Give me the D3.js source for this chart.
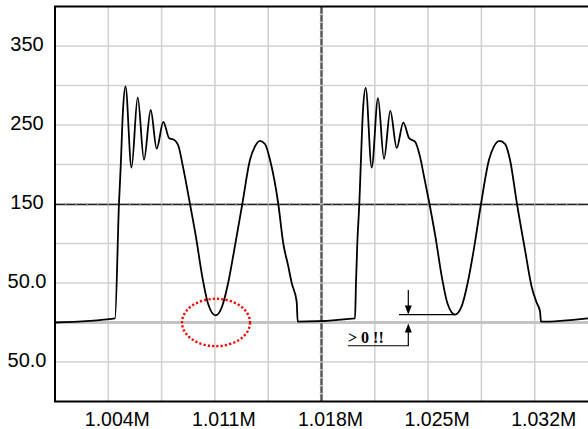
<!DOCTYPE html>
<html>
<head>
<meta charset="utf-8">
<script src="https://cdn.jsdelivr.net/npm/d3@7/dist/d3.min.js"></script>
<style>
  body { margin: 0; background: #fff; }
  svg { display: block; }
</style>
</head>
<body>
<svg width="588" height="429"></svg>
<script>
// tick labels
var xTicks = [1004000, 1011000, 1018000, 1025000, 1032000];
var yTicks = [350, 250, 150, 50, -50];
var yTickLabels = ["350", "250", "150", "50.0", "50.0"];

// trace (frequency in Hz, amplitude)
var pulse1Freq = [1000500, 1004440, 1004702, 1004814, 1004965, 1005129, 1005523, 1005931, 1006344,
  1006784, 1007178, 1007612, 1008006, 1008249, 1008577, 1008905, 1009365, 1009759, 1010153,
  1010547, 1011040, 1011466, 1011860, 1012254, 1012799, 1013305, 1013633, 1013961, 1014290,
  1014618, 1015163, 1015491, 1015820, 1016043, 1016371, 1016437];
var pulse1Amp = [0, 5.3, 151, 197, 269, 299, 196, 285, 206,
  269, 220, 254, 233, 232, 225, 197, 150, 108, 60,
  24, 9, 20, 49, 90, 150, 206, 223, 230, 226,
  206, 150, 100, 71, 50, 26, 1];

var pulse2Freq = [1020200, 1020265, 1020351, 1020482, 1020574, 1020725, 1020902, 1021296, 1021710,
  1022104, 1022518, 1022938, 1023372, 1023765, 1024140, 1024468, 1024731, 1025092, 1025486,
  1025880, 1026274, 1026766, 1027193, 1027587, 1027981, 1028473, 1028999, 1029327, 1029688,
  1030049, 1030378, 1030837, 1031363, 1031803, 1032131, 1032348, 1032413, 1035500];
var pulse2Amp = [5.3, 50, 100, 150, 197, 269, 297, 196, 284,
  207, 268, 221, 253, 233, 229, 210, 185, 150, 108,
  60, 24, 10, 20, 49, 90, 150, 206, 223, 230,
  226, 206, 150, 92, 45, 25, 14, 1, 5.3];

// annotations (data coordinates)
var circleFreq = 1011072, circleAmp = 0, circleRx = 2233, circleRy = 30;
var noteFreq = 1023700, noteLevel = 10, noteTop = 41, noteBase = -29.4;
var noteLineFrom = 1023090, noteLineTo = 1026766, noteTextFreq = 1019740;
var noteText = "> 0 !!";

var svg = d3.select("svg"),
    width = +svg.attr("width"),
    height = +svg.attr("height");

var x = d3.scaleLinear().domain([1000500, 1035500]).range([55, 588]);
var y = d3.scaleLinear().domain([-100, 400]).range([401.5, 6.5]);

var g = svg.append("g");

// grid
g.selectAll("line.vgrid")
  .data(d3.range(1004000, 1035500, 3500))
  .enter().append("line")
  .attr("class", "vgrid")
  .attr("x1", function(d) { return x(d); })
  .attr("x2", function(d) { return x(d); })
  .attr("y1", y(400)).attr("y2", y(-100))
  .style("stroke", "#d2d2d2")
  .style("stroke-width", 1.6);

g.selectAll("line.hgrid")
  .data(d3.range(-50, 400, 50))
  .enter().append("line")
  .attr("class", "hgrid")
  .attr("x1", x(1000500)).attr("x2", width)
  .attr("y1", function(d) { return y(d); })
  .attr("y2", function(d) { return y(d); })
  .style("stroke", function(d) { return d == 0 ? "#c4c4c4" : "#d2d2d2"; })
  .style("stroke-width", function(d) { return d == 0 ? 3.2 : 1.6; });

// centre crosshair with minor divisions
g.append("line")
  .attr("x1", x(1000500)).attr("x2", width)
  .attr("y1", y(150) + 0.5).attr("y2", y(150) + 0.5)
  .style("stroke", "#222")
  .style("stroke-width", 1.3);
g.selectAll("line.htick")
  .data(d3.range(1000500 + 700, 1035500, 700))
  .enter().append("line")
  .attr("class", "htick")
  .attr("x1", function(d) { return x(d); })
  .attr("x2", function(d) { return x(d); })
  .attr("y1", y(150) - 1).attr("y2", y(150) + 2)
  .style("stroke", "#aaa")
  .style("stroke-width", 1.2);

g.append("line")
  .attr("x1", x(1018000)).attr("x2", x(1018000))
  .attr("y1", y(400)).attr("y2", y(-100))
  .style("stroke", "#555")
  .style("stroke-width", 2.4);
g.selectAll("line.vtick")
  .data(d3.range(-90, 400, 10))
  .enter().append("line")
  .attr("class", "vtick")
  .attr("x1", x(1018000) - 2).attr("x2", x(1018000) + 2)
  .attr("y1", function(d) { return y(d); })
  .attr("y2", function(d) { return y(d); })
  .style("stroke", "#c8c8c8")
  .style("stroke-width", 1.4);

// frame
g.append("path")
  .attr("d", "M" + width + "," + y(400) + "H" + x(1000500) + "V" + y(-100) + "H" + width)
  .style("fill", "none")
  .style("stroke", "#000")
  .style("stroke-width", 2);

// trace
var trace = d3.zip(pulse1Freq, pulse1Amp).concat(d3.zip(pulse2Freq, pulse2Amp));

var line = d3.line()
  .x(function(d) { return x(d[0]); })
  .y(function(d) { return y(d[1]); })
  .curve(d3.curveMonotoneX);

g.append("path")
  .datum(trace)
  .attr("d", line)
  .style("fill", "none")
  .style("stroke", "#000")
  .style("stroke-width", 1.8)
  .style("stroke-linejoin", "round");

// red dotted ring round the first minimum
g.append("ellipse")
  .attr("cx", x(circleFreq))
  .attr("cy", y(circleAmp))
  .attr("rx", x(circleFreq + circleRx) - x(circleFreq))
  .attr("ry", y(circleAmp) - y(circleAmp + circleRy))
  .style("fill", "none")
  .style("stroke", "#ff0000")
  .style("stroke-width", 2.4)
  .style("stroke-dasharray", "2.2,2.1");

// "> 0 !!" note at the second minimum
var note = g.append("g");
note.append("line")
  .attr("x1", x(noteLineFrom)).attr("x2", x(noteLineTo))
  .attr("y1", y(noteLevel)).attr("y2", y(noteLevel))
  .style("stroke", "#000").style("stroke-width", 1.2);
note.append("line")
  .attr("x1", x(noteFreq)).attr("x2", x(noteFreq))
  .attr("y1", y(noteTop)).attr("y2", y(noteLevel) - 8)
  .style("stroke", "#000").style("stroke-width", 1.2);
note.append("path")
  .attr("d", "M" + (x(noteFreq) - 3.5) + "," + (y(noteLevel) - 9) + "L" + (x(noteFreq) + 3.5) + "," + (y(noteLevel) - 9) + "L" + x(noteFreq) + "," + y(noteLevel) + "Z")
  .style("fill", "#000");
note.append("path")
  .attr("d", "M" + x(noteTextFreq) + "," + y(noteBase) + "H" + x(noteFreq) + "V" + (y(0) + 9))
  .style("fill", "none")
  .style("stroke", "#000").style("stroke-width", 1.2);
note.append("path")
  .attr("d", "M" + (x(noteFreq) - 3.5) + "," + (y(0) + 10) + "L" + (x(noteFreq) + 3.5) + "," + (y(0) + 10) + "L" + x(noteFreq) + "," + (y(0) + 1) + "Z")
  .style("fill", "#000");
note.append("text")
  .attr("x", x(noteTextFreq))
  .attr("y", y(noteBase) - 2.5)
  .style("font-family", "'Liberation Serif', 'Times New Roman', serif")
  .style("font-weight", "bold")
  .style("font-size", "16px")
  .text(noteText);

// axes labels
var xAxis = d3.axisBottom(x)
  .tickValues(xTicks)
  .tickSize(0)
  .tickFormat(d3.format(".4s"));

var xg = svg.append("g")
  .attr("transform", "translate(0," + y(-100) + ")")
  .call(xAxis);
xg.select(".domain").remove();
xg.selectAll("text")
  .attr("dx", 8.5)
  .attr("y", 24.5)
  .attr("dy", 0)
  .style("font-family", "'Liberation Sans', Arial, sans-serif")
  .style("font-size", "19.5px")
  .style("fill", "#000");

var yAxis = d3.axisLeft(y)
  .tickValues(yTicks)
  .tickSize(0)
  .tickFormat(function(d, i) { return yTickLabels[i]; });

var yg = svg.append("g")
  .attr("transform", "translate(27,0)")
  .call(yAxis);
yg.select(".domain").remove();
yg.selectAll("text")
  .attr("x", 0)
  .attr("dy", 4)
  .attr("text-anchor", "middle")
  .style("font-family", "'Liberation Sans', Arial, sans-serif")
  .style("font-size", "20px")
  .style("fill", "#000");
</script>
</body>
</html>
